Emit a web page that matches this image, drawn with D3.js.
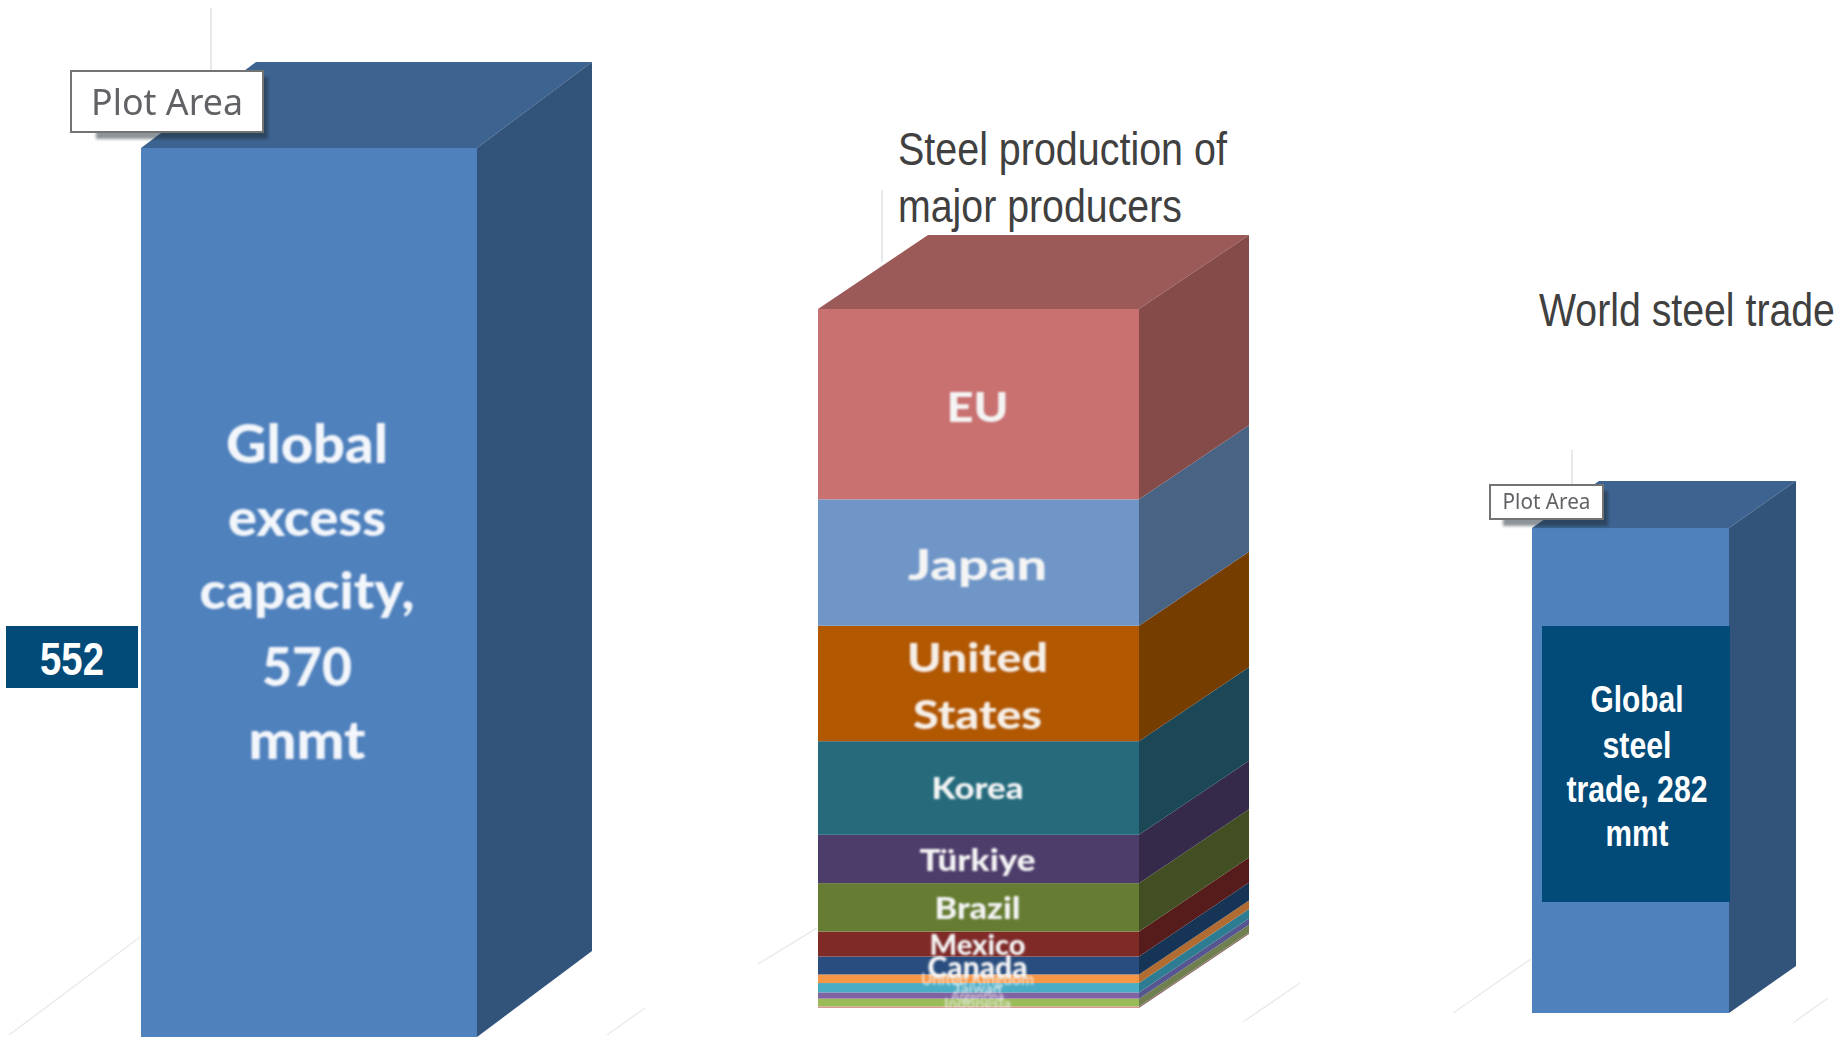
<!DOCTYPE html>
<html>
<head>
<meta charset="utf-8">
<script src="https://cdn.jsdelivr.net/npm/d3@7"></script>
<style>
  html, body { margin: 0; padding: 0; background: #fff; }
  svg { display: block; }
</style>
</head>
<body>
<svg id="chart" width="1843" height="1038"></svg>
<script>
// Million metric tons behind each column
const capacityValue = 570;
const tradeValue = 282;
const producers = ["EU", "Japan", "United States", "Korea", "Türkiye", "Brazil", "Mexico", "Canada",
  "United Kingdom", "Taiwan", "Argentina", "Indonesia", "Other"];
const production = [122, 81, 74, 60, 31, 31, 16, 11.5, 5.5, 6, 4, 5, 1];
const calloutValue = "552";

// Front and shaded side colour per producer
const frontColors = ["#c96f6f", "#6f96c8", "#b25806", "#256b7c", "#4e3c6b", "#657c32", "#7f2a28",
  "#2b4e7f", "#f79646", "#4bacc6", "#8064a2", "#9bbb59", "#d99694"];
const sideColors = ["#854c4a", "#4a6485", "#753c05", "#1b4756", "#352a49", "#434f21", "#571c1b",
  "#173557", "#b16c32", "#2d7b91", "#54578f", "#6f7f4f", "#8f6a68"];
const topColor = "#9b5a58";

// Label type sizes, fitted widths and baseline nudges for the stacked column
const labelSizes = [42, 42, 40, 30, 30, 30, 29, 30, 16, 13, 13, 14, 0];
const labelNudges = [0, 0, 0, -2, -1, -1, -1, 0, 0, 0, 0, 0, 0];
const labelWidths = {
  "EU": 62, "Japan": 139, "United": 141, "States": 129, "Korea": 92, "Türkiye": 116, "Brazil": 86,
  "Mexico": 96, "Canada": 100, "United Kingdom": 113, "Taiwan": 48, "Argentina": 53, "Indonesia": 67
};

const svg = d3.select("#chart");
const defs = svg.append("defs");
const addBlur = (id, sd) => defs.append("filter").attr("id", id)
  .attr("x", "-10%").attr("y", "-10%").attr("width", "120%").attr("height", "120%")
  .append("feGaussianBlur").attr("stdDeviation", sd);
addBlur("soft", 0.6);
addBlur("softText", 0.9);
addBlur("softShadow", 1.5);

const SANS = "Lato, 'Open Sans', sans-serif";
const NARROW = "'Liberation Sans', sans-serif";
const path = d3.line();

// Front face, side face and optional top face of one extruded block
function block(g, b, y0, y1, front, side) {
  g.append("rect").attr("x", b.x0).attr("y", y1).attr("width", b.x1 - b.x0).attr("height", y0 - y1).attr("fill", front);
  g.append("path").attr("d", path([[b.x1, y0], [b.x1, y1], [b.x1 + b.dx, y1 - b.dy], [b.x1 + b.dx, y0 - b.dy]]) + "Z").attr("fill", side);
}
function topFace(g, b, y, fill) {
  g.append("path").attr("d", path([[b.x0, y], [b.x1, y], [b.x1 + b.dx, y - b.dy], [b.x0 + b.dx, y - b.dy]]) + "Z").attr("fill", fill);
}

// Faint wall and floor rules that show behind a column
function gridRules(wallTop, wallBottom, wallX, leftFloor, rightFloor) {
  const g = svg.append("g").attr("stroke", "#ecebeb").attr("stroke-width", 1.5).attr("fill", "none");
  g.append("line").attr("x1", wallX).attr("x2", wallX).attr("y1", wallTop).attr("y2", wallBottom).attr("stroke", "#e2e2e2");
  [leftFloor, rightFloor].forEach(l => g.append("line").attr("x1", l[0]).attr("y1", l[1]).attr("x2", l[2]).attr("y2", l[3]));
}

// Text condensed horizontally to a fitted width, so its box stays true to what is drawn
function fitted(parent, str, x, y, width, anchor) {
  const t = parent.append("text").attr("text-anchor", anchor).text(str);
  const natural = t.node().getComputedTextLength();
  t.attr("transform", `translate(${x},${y}) scale(${width / natural},1)`);
  return t;
}

function plotAreaTag(x, y, w, h, fs, tw, shadowInset) {
  svg.append("rect").attr("x", x + shadowInset).attr("y", y + 6).attr("width", w - shadowInset + 5).attr("height", h + 1)
    .attr("fill", "#1f2a36").attr("opacity", 0.5).attr("filter", "url(#softShadow)");
  svg.append("rect").attr("x", x).attr("y", y).attr("width", w).attr("height", h)
    .attr("fill", "#fff").attr("stroke", "#737373").attr("stroke-width", 2);
  const label = svg.append("g").attr("font-family", "'Noto Sans', sans-serif").attr("font-size", fs)
    .attr("fill", "#626266").attr("filter", "url(#soft)");
  fitted(label, "Plot Area", x + w / 2, y + h * 0.72, tw, "middle");
}

function softLabel(g, text, x, y, fs, width, fill, opacity) {
  const holder = g.append("g").attr("font-family", SANS).attr("font-weight", 900).attr("font-size", fs)
    .attr("fill", fill).attr("fill-opacity", opacity === undefined ? 1 : opacity)
    .attr("filter", "url(#softText)");
  fitted(holder, text, x, y, width, "middle");
}

function crispLines(lines, x, fs, fill, weight, anchor) {
  const holder = svg.append("g").attr("font-family", NARROW).attr("font-size", fs)
    .attr("font-weight", weight).attr("fill", fill);
  lines.forEach(l => fitted(holder, l.t, x, l.y, l.w, anchor));
}

// Column 1: global excess capacity
const capBox = { x0: 141, x1: 477, dx: 115, dy: 86 };
const capY = d3.scaleLinear().domain([0, capacityValue]).range([1037, 148]);
gridRules(8, 80, 211, [9, 1035, 140, 937], [607, 1035, 645, 1008]);
const capG = svg.append("g").attr("filter", "url(#soft)");
topFace(capG, capBox, capY(capacityValue), "#3e6390");
block(capG, capBox, capY(0), capY(capacityValue), "#4f81bd", "#31527a");
[["Global", 463, 162], ["excess", 536, 158], ["capacity,", 609, 215], ["570", 686, 90], ["mmt", 759, 117]]
  .forEach((l, i) => softLabel(capG, l[0], 307, l[1], i === 0 || i >= 3 ? 54 : 52, l[2], "#f3f6fb"));
plotAreaTag(71, 71, 192, 61, 37, 152, 25);

// Callout beside column 1
svg.append("rect").attr("x", 6).attr("y", 626).attr("width", 132).attr("height", 62).attr("fill", "#024a78");
crispLines([{ t: calloutValue, y: 675, w: 64 }], 72, 46, "#fff", 700, "middle");

// Column 2: stacked production of major producers
const prodBox = { x0: 818, x1: 1139, dx: 110, dy: 74 };
const table = [Object.fromEntries(producers.map((p, i) => [p, production[i]]))];
const stacked = d3.stack().keys(producers)(table);
const total = d3.sum(production);
const prodY = d3.scaleLinear().domain([0, total]).range([1008, 309]);
gridRules(190, 262, 882, [758, 964, 817, 928], [1243, 1022, 1300, 983]);
const prodG = svg.append("g").attr("filter", "url(#soft)");
// The first producer sits at the top, so stacked offsets are flipped against the total
const layers = stacked.map((s, i) => ({ i, y0: prodY(total - s[0][1]), y1: prodY(total - s[0][0]) }));
topFace(prodG, prodBox, prodY(total), topColor);
layers.slice().reverse().forEach(l => block(prodG, prodBox, l.y0, l.y1, frontColors[l.i], sideColors[l.i]));
const cxProd = (prodBox.x0 + prodBox.x1) / 2 - 1;
layers.forEach(l => {
  const name = producers[l.i], fs = labelSizes[l.i];
  if (!fs) return;
  const mid = (l.y0 + l.y1) / 2, base = mid + fs * 0.42 + labelNudges[l.i];
  const opacity = fs < 20 ? 0.65 : 1;
  if (name === "United States") {
    softLabel(prodG, "United", cxProd, mid - 11, fs, labelWidths["United"], "#f6efe8");
    softLabel(prodG, "States", cxProd, mid + 46, fs, labelWidths["States"], "#f6efe8");
  } else {
    softLabel(prodG, name, cxProd, base, fs, labelWidths[name], "#f4f4f4", opacity);
  }
});

// Column 3: world steel trade
const tradeBox = { x0: 1532, x1: 1729, dx: 67, dy: 47 };
const tradeY = d3.scaleLinear().domain([0, tradeValue]).range([1013, 528]);
gridRules(450, 490, 1572, [1453, 1013, 1531, 959], [1793, 1023, 1828, 998]);
const tradeG = svg.append("g").attr("filter", "url(#soft)");
topFace(tradeG, tradeBox, tradeY(tradeValue), "#3e6390");
block(tradeG, tradeBox, tradeY(0), tradeY(tradeValue), "#4f81bd", "#31527a");
plotAreaTag(1490, 485, 113, 34, 21, 88, 13);
svg.append("rect").attr("x", 1542).attr("y", 626).attr("width", 188).attr("height", 276).attr("fill", "#024a78");
crispLines([
  { t: "Global", y: 712, w: 93 }, { t: "steel", y: 758, w: 69 },
  { t: "trade, 282", y: 802, w: 141 }, { t: "mmt", y: 846, w: 63 }
], 1637, 37, "#fff", 700, "middle");

// Column headings
crispLines([
  { t: "Steel production of", y: 165, w: 329 },
  { t: "major producers", y: 222, w: 284 }
], 898, 47, "#404040", 400, "start");
crispLines([{ t: "World steel trade", y: 326, w: 296 }], 1539, 46, "#404040", 400, "start");
</script>
</body>
</html>
